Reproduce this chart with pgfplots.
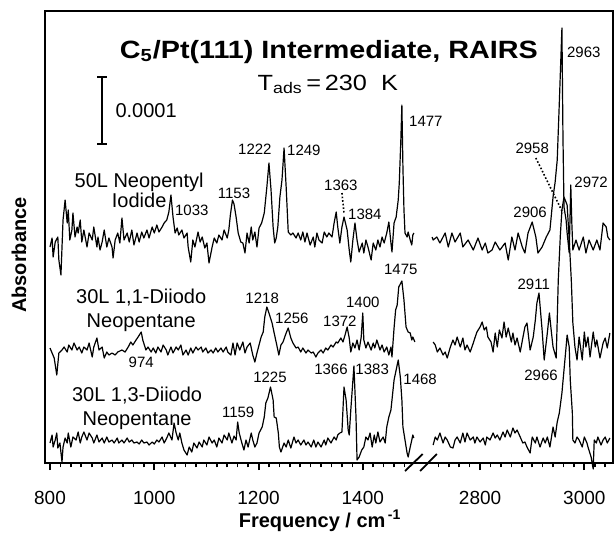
\documentclass[border=0pt]{standalone}
\usepackage{fontspec}
\setmainfont{Liberation Sans}
\newfontfamily\widefont{Liberation Sans}[FakeStretch=1.15]
\usepackage{pgfplots}
\usepackage{pgfplotstable}
\pgfplotsset{compat=1.18}

% 50L Neopentyl Iodide, low-frequency part
\pgfplotstableread{
f A
800 216
804 225
806 206
810 221
815 226
817 203
821 188
825 243
829 263
833 240
835 253
838 223
842 233
844 250
848 226
852 236
854 230
858 243
861 221
865 233
871 216
875 230
881 223
884 236
890 216
892 226
896 213
900 221
904 233
909 216
913 225
919 216
921 205
925 223
930 230
934 220
938 245
942 223
948 230
952 221
957 233
961 218
967 230
971 221
976 231
980 225
986 233
990 225
996 236
1000 230
1005 238
1009 231
1015 236
1019 240
1024 243
1028 251
1032 268
1036 246
1040 230
1044 235
1047 228
1053 233
1057 225
1063 230
1065 216
1070 201
1074 223
1078 216
1084 231
1088 221
1092 226
1097 215
1101 220
1105 200
1111 216
1115 225
1120 220
1124 228
1130 223
1134 233
1140 225
1143 233
1146 248
1150 263
1153 259
1157 246
1161 230
1166 221
1170 220
1174 210
1178 230
1182 220
1186 236
1189 223
1193 231
1197 216
1201 235
1206 240
1211 250
1216 276
1220 300
1224 273
1228 236
1231 220
1234 225
1237 236
1241 266
1245 283
1249 315
1253 276
1257 231
1262 228
1266 230
1272 225
1276 230
1281 223
1285 231
1289 221
1293 230
1299 218
1305 226
1308 216
1312 230
1316 223
1322 220
1326 231
1331 226
1335 230
1341 226
1345 240
1349 251
1352 236
1356 220
1360 236
1364 246
1370 233
1374 213
1377 201
1381 223
1385 240
1389 223
1393 211
1399 220
1402 210
1406 223
1410 216
1416 203
1420 220
1425 213
1429 223
1433 216
1437 226
1441 220
1446 230
1450 241
1454 220
1456 211
1460 240
1464 246
1468 263
1470 280
1473 323
1475 358
1477 296
1479 253
1481 230
1485 226
1487 231
1491 223
1494 218
1496 228
1498 230
}\topL

% 50L Neopentyl Iodide, C-H stretch part
\pgfplotstableread{
f A
2708 226
2710 223
2717 226
2723 220
2733 230
2739 216
2746 230
2752 221
2762 230
2767 216
2777 223
2787 213
2796 225
2804 213
2810 220
2815 210
2823 213
2829 221
2838 213
2848 220
2854 203
2861 226
2867 213
2873 230
2881 216
2886 210
2892 230
2900 241
2907 226
2911 210
2919 216
2927 226
2934 233
2940 266
2944 281
2948 303
2952 360
2957 435
2959 326
2961 256
2965 243
2967 230
2971 210
2974 278
2976 240
2978 213
2984 223
2990 213
2998 226
3003 210
3009 223
3017 213
3024 223
3030 213
3036 240
3042 236
3045 226
3049 223
}\topR

% 30L 1,1-Diiodo Neopentane, low-frequency part
\pgfplotstableread{
f A
800 115
804 110
808 105
813 88
817 110
823 113
827 116
833 111
836 118
842 113
846 120
852 113
856 116
861 110
865 116
871 113
875 120
881 106
884 116
890 125
894 113
900 116
904 105
909 111
913 108
919 110
925 108
930 111
938 113
944 111
950 116
955 121
959 118
965 123
969 126
975 131
978 123
984 113
988 116
994 111
998 115
1003 110
1007 116
1013 111
1017 118
1023 113
1026 108
1032 116
1036 110
1042 116
1046 113
1051 118
1055 108
1061 113
1065 108
1070 115
1074 110
1080 116
1084 113
1090 116
1093 111
1099 115
1103 110
1109 113
1113 110
1118 115
1122 111
1128 115
1132 111
1138 116
1141 111
1147 108
1151 120
1155 108
1159 120
1164 113
1170 121
1174 110
1178 116
1184 120
1189 108
1193 101
1197 110
1201 118
1205 126
1209 131
1212 146
1216 156
1220 150
1226 140
1230 130
1235 118
1239 108
1243 118
1247 121
1253 130
1257 135
1262 125
1266 120
1272 115
1276 116
1281 111
1285 115
1291 110
1295 113
1301 110
1305 111
1310 106
1314 110
1320 113
1324 110
1329 115
1333 113
1339 118
1343 116
1349 121
1352 120
1358 125
1362 121
1366 128
1370 136
1374 125
1377 111
1381 120
1385 115
1389 123
1393 113
1397 126
1400 150
1402 123
1406 115
1410 121
1416 113
1420 120
1423 115
1427 123
1433 113
1437 118
1441 111
1446 116
1450 108
1454 116
1456 106
1460 135
1463 153
1466 158
1469 176
1475 182
1479 163
1483 136
1487 131
1491 130
1494 123
1496 126
1500 121
}\midL

% 30L 1,1-Diiodo Neopentane, C-H stretch part
\pgfplotstableread{
f A
2710 121
2714 118
2718 111
2723 115
2729 108
2733 111
2737 105
2743 116
2748 123
2752 118
2756 126
2762 116
2767 125
2771 113
2775 118
2781 111
2787 120
2790 125
2794 131
2800 136
2804 141
2808 133
2812 136
2815 126
2821 121
2825 111
2829 130
2833 116
2837 133
2842 125
2846 141
2850 126
2854 135
2860 121
2863 130
2867 118
2871 125
2877 111
2882 125
2886 136
2890 140
2896 113
2902 126
2906 143
2909 160
2913 170
2919 133
2923 103
2929 130
2933 150
2937 130
2940 116
2946 105
2948 143
2950 183
2954 228
2957 253
2961 266
2967 258
2971 223
2975 183
2978 140
2982 116
2986 103
2990 126
2996 103
3000 131
3003 116
3007 126
3011 106
3017 131
3021 116
3024 123
3030 105
3036 120
3040 125
3044 115
3049 130
}\midR

% 30L 1,3-Diiodo Neopentane, low-frequency part
\pgfplotstableread{
f A
800 20
804 28
806 16
810 23
813 30
815 15
819 20
823 1
825 16
829 25
833 20
835 30
840 16
844 26
850 23
854 31
858 20
861 26
865 31
871 23
875 30
881 25
884 20
890 28
894 21
900 25
904 20
909 26
913 21
919 23
923 20
929 25
932 20
938 23
942 20
948 25
952 21
957 23
961 20
967 21
971 19
976 23
980 20
986 21
990 18
996 21
1000 19
1005 23
1009 21
1015 26
1019 20
1024 25
1028 30
1034 23
1038 40
1042 30
1046 23
1049 30
1053 20
1057 13
1063 8
1067 16
1072 11
1076 20
1082 15
1086 21
1092 16
1095 23
1101 18
1105 26
1111 20
1115 23
1120 16
1124 25
1130 20
1134 28
1140 23
1143 30
1149 20
1153 27
1157 23
1160 41
1163 30
1168 20
1172 13
1176 23
1180 16
1186 30
1189 23
1193 16
1197 20
1201 30
1207 36
1211 46
1214 60
1218 65
1223 76
1228 63
1230 46
1234 45
1238 30
1240 16
1243 11
1249 20
1253 16
1257 23
1262 15
1268 26
1272 20
1276 23
1281 18
1287 23
1291 18
1295 21
1301 16
1306 23
1310 16
1314 21
1320 16
1326 23
1329 18
1333 25
1339 20
1345 26
1349 23
1352 28
1356 30
1360 31
1364 76
1368 63
1372 33
1374 28
1377 53
1383 97
1387 46
1389 3
1393 6
1398 13
1402 16
1406 26
1410 23
1414 30
1418 16
1422 28
1425 20
1429 31
1433 21
1439 26
1443 20
1446 36
1450 46
1454 53
1458 73
1460 83
1466 98
1468 103
1472 86
1475 63
1477 36
1481 23
1485 10
1487 6
1491 16
1494 23
1496 28
1498 25
}\botL

% 30L 1,3-Diiodo Neopentane, C-H stretch part
\pgfplotstableread{
f A
2710 18
2714 26
2718 23
2723 30
2729 20
2733 26
2737 23
2743 16
2748 15
2752 23
2756 26
2762 20
2767 30
2771 21
2775 30
2781 23
2787 26
2790 20
2794 26
2800 21
2806 25
2810 18
2813 26
2819 23
2825 30
2829 25
2833 28
2838 23
2844 31
2848 26
2852 33
2858 26
2863 35
2867 30
2871 33
2877 26
2882 20
2886 21
2890 16
2896 10
2900 26
2906 20
2909 26
2915 16
2921 25
2925 20
2929 26
2934 16
2940 36
2944 26
2948 41
2952 50
2957 70
2961 93
2965 116
2967 128
2971 116
2973 83
2977 50
2978 23
2982 20
2986 26
2990 23
2996 16
3000 26
3005 20
3007 16
3013 6
3017 -6
3019 23
3023 20
3026 26
3032 18
3036 23
3040 26
3044 20
3049 25
}\botR

\begin{document}
\begin{tikzpicture}
\useasboundingbox (-22.5pt,-34.5pt) rectangle (285pt,231.5pt);
\begin{axis}[
  at={(0pt,0pt)}, anchor=south west,
  scale only axis, width=284pt, height=226pt,
  xmin=790.4, xmax=1880, ymin=0, ymax=452,
  clip=false,
  axis line style={line width=0.9pt},
  ytick=\empty,
  xtick pos=left,
  tick align=outside,
  xtick={800,1000,1200,1400,1625,1825},
  xticklabels={800,1000,1200,1400,2800,3000},
  minor xtick={820,840,860,880,900,920,940,960,980,1020,1040,1060,1080,1100,1120,1140,1160,1180,1220,1240,1260,1280,1300,1320,1340,1360,1380,1420,1440,1460,1480,1545,1565,1585,1605,1645,1665,1685,1705,1725,1745,1765,1785,1805,1845,1865},
  major tick length=3.5pt, minor tick length=2.2pt,
  every major tick/.append style={line width=1pt, black},
  every minor tick/.append style={line width=0.8pt, black},
  xticklabel style={font=\fontsize{9.5}{11}\selectfont, yshift=-7pt},
]
\pgfplotsset{spec/.style={black, line width=0.6pt, line join=round, no markers}}
\addplot[spec] table[x=f, y=A] {\topL};
\addplot[spec] table[x expr=\thisrow{f}-1175, y=A] {\topR};
\addplot[spec] table[x=f, y=A] {\midL};
\addplot[spec] table[x expr=\thisrow{f}-1175, y=A] {\midR};
\addplot[spec] table[x=f, y=A] {\botL};
\addplot[spec] table[x expr=\thisrow{f}-1175, y=A] {\botR};

% axis break marks
\draw[line width=0.9pt] (axis cs:1481,-8) -- (axis cs:1515,9);
\draw[line width=0.9pt] (axis cs:1510,-8) -- (axis cs:1542,9);

% title
\node[anchor=base, inner sep=0pt, font=\widefont\fontsize{12.5}{15}\selectfont\bfseries] at (axis cs:1335,405) {C\textsubscript{5}/Pt(111) Intermediate, RAIRS};
\node[anchor=base, inner sep=0pt, font=\widefont\fontsize{11}{13}\selectfont] at (axis cs:1333,373) {T\textsubscript{ads}\,=\,230~~K};

% scale bar
\draw[line width=1pt] (axis cs:900,386) -- (axis cs:900,319);
\draw[line width=1pt] (axis cs:891,386) -- (axis cs:909,386);
\draw[line width=1pt] (axis cs:891,319) -- (axis cs:909,319);
\node[anchor=west, inner sep=0pt, font=\fontsize{10}{12}\selectfont] at (axis cs:925,352) {0.0001};

% spectrum names
\node[anchor=north, inner sep=0pt, align=center, font=\fontsize{10}{10}\selectfont] at (axis cs:971,290) {50L Neopentyl\\Iodide};
\node[anchor=north, inner sep=0pt, align=center, font=\fontsize{10}{12}\selectfont] at (axis cs:975,174) {30L 1,1-Diiodo\\Neopentane};
\node[anchor=north, inner sep=0pt, align=center, font=\fontsize{10}{12}\selectfont] at (axis cs:967,76) {30L 1,3-Diiodo\\Neopentane};

% peak labels
\begin{scope}[every node/.style={font=\fontsize{7.5}{8}\selectfont, inner sep=0pt}]
\node at (axis cs:1072,253) {1033};
\node at (axis cs:1153,270) {1153};
\node at (axis cs:1193,314) {1222};
\node at (axis cs:1287,313) {1249};
\node at (axis cs:1358,278) {1363};
\node at (axis cs:1404,249) {1384};
\node at (axis cs:1521,342) {1477};
\node at (axis cs:1824,411) {2963};
\node at (axis cs:1725,315) {2958};
\node at (axis cs:1838,281) {2972};
\node at (axis cs:1721,251) {2906};
\node at (axis cs:975,101) {974};
\node at (axis cs:1207,165) {1218};
\node at (axis cs:1264,145) {1256};
\node at (axis cs:1356,142) {1372};
\node at (axis cs:1400,161) {1400};
\node at (axis cs:1473,194) {1475};
\node at (axis cs:1728,179) {2911};
\node at (axis cs:1161,51) {1159};
\node at (axis cs:1222,86) {1225};
\node at (axis cs:1339,94) {1366};
\node at (axis cs:1418,94) {1383};
\node at (axis cs:1510,84) {1468};
\node at (axis cs:1742,88) {2966};
\end{scope}
\draw[densely dotted, line width=0.8pt] (axis cs:1360,270) -- (axis cs:1364,250);
\draw[densely dotted, line width=0.8pt] (axis cs:1732,305) -- (axis cs:1784,250);

% axis titles
\node[rotate=90, font=\fontsize{10}{12}\selectfont\bfseries] at (axis cs:740.5,208) {Absorbance};
\node[anchor=base, font=\fontsize{10}{12}\selectfont\bfseries] at (axis cs:1318,-64) {Frequency / cm\textsuperscript{\,-1}};
\end{axis}
\end{tikzpicture}
\end{document}
